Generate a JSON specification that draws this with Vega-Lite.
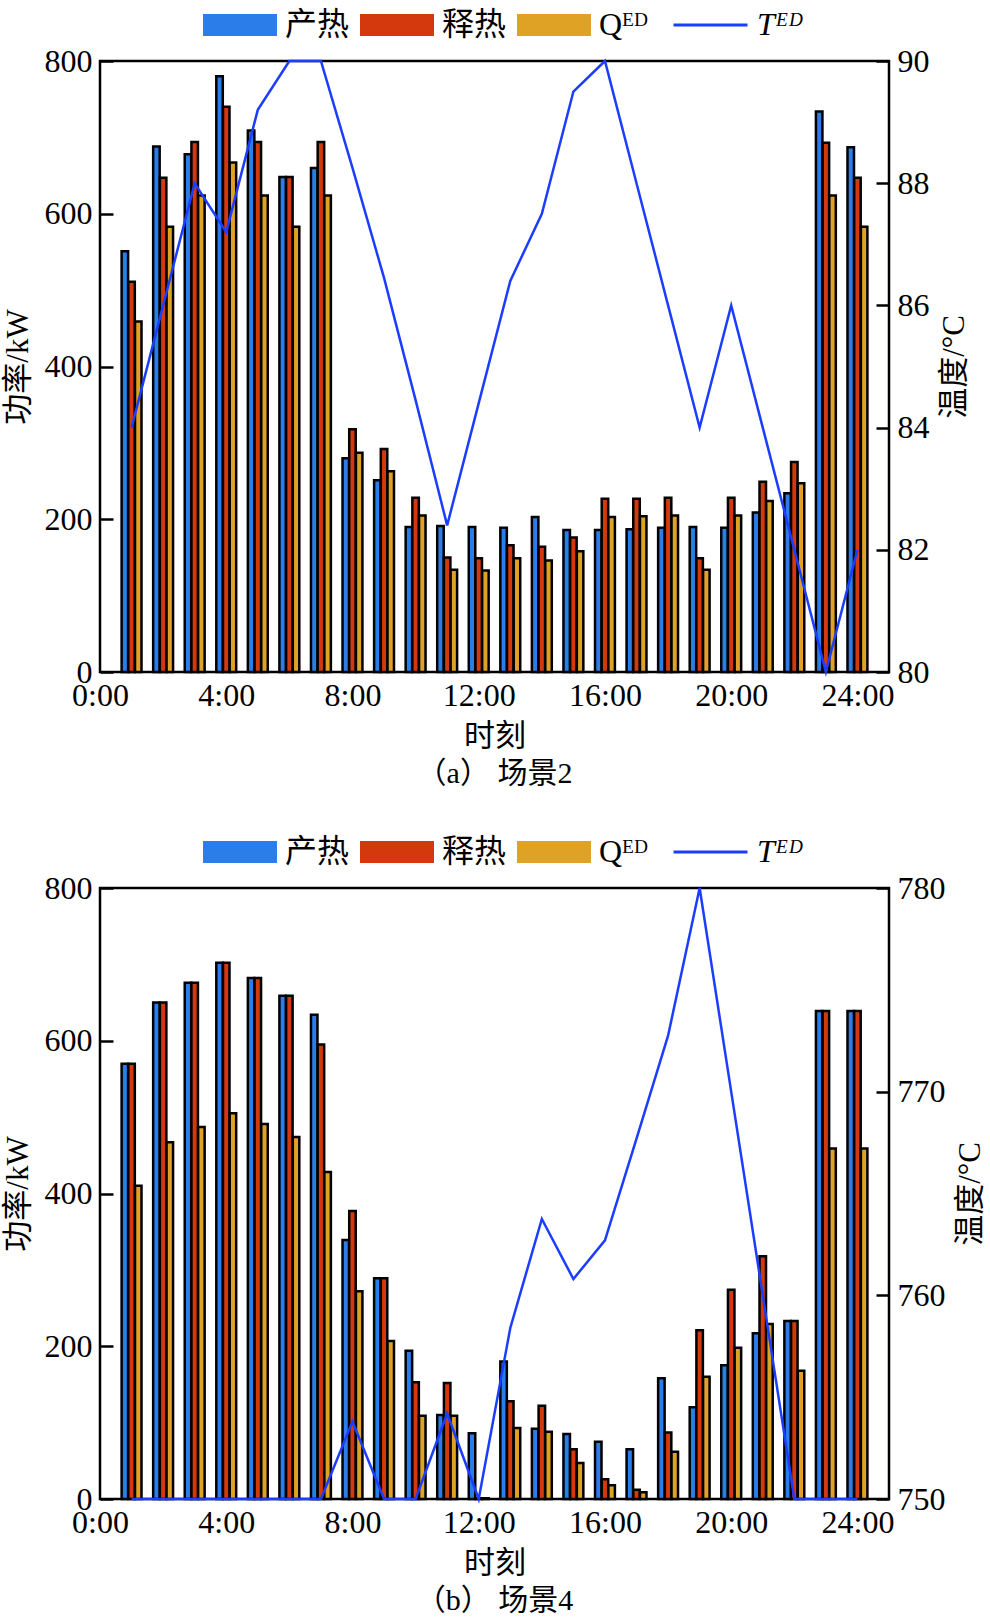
{
  "$schema": "https://vega.github.io/schema/vega-lite/v6.json",
  "padding": {"left": 0, "top": 7, "right": 0, "bottom": 2},
  "background": "white",
  "datasets": {
    "a": [
      {"h": 1, "p": 551, "r": 511, "q": 459, "t": 84},
      {"h": 2, "p": 688, "r": 647, "q": 583, "t": 86},
      {"h": 3, "p": 678, "r": 694, "q": 624, "t": 88},
      {"h": 4, "p": 780, "r": 740, "q": 667, "t": 87.2},
      {"h": 5, "p": 709, "r": 694, "q": 624, "t": 89.2},
      {"h": 6, "p": 648, "r": 648, "q": 583, "t": 90},
      {"h": 7, "p": 660, "r": 694, "q": 624, "t": 90},
      {"h": 8, "p": 280, "r": 318, "q": 287, "t": 88.25},
      {"h": 9, "p": 251, "r": 292, "q": 263, "t": 86.45},
      {"h": 10, "p": 190, "r": 228, "q": 205, "t": 84.45},
      {"h": 11, "p": 191, "r": 150, "q": 134, "t": 82.4},
      {"h": 12, "p": 190, "r": 149, "q": 133, "t": 84.4},
      {"h": 13, "p": 189, "r": 166, "q": 149, "t": 86.4},
      {"h": 14, "p": 203, "r": 164, "q": 146, "t": 87.5},
      {"h": 15, "p": 186, "r": 176, "q": 158, "t": 89.5},
      {"h": 16, "p": 186, "r": 227, "q": 203, "t": 90},
      {"h": 17, "p": 187, "r": 227, "q": 204, "t": 88},
      {"h": 18, "p": 189, "r": 228, "q": 205, "t": 86},
      {"h": 19, "p": 190, "r": 149, "q": 134, "t": 84},
      {"h": 20, "p": 189, "r": 228, "q": 205, "t": 86},
      {"h": 21, "p": 209, "r": 249, "q": 224, "t": 84},
      {"h": 22, "p": 234, "r": 275, "q": 247, "t": 82},
      {"h": 23, "p": 734, "r": 693, "q": 624, "t": 80},
      {"h": 24, "p": 687, "r": 647, "q": 583, "t": 82}
    ],
    "b": [
      {"h": 1, "p": 570, "r": 570, "q": 410, "t": 750},
      {"h": 2, "p": 650, "r": 650, "q": 467, "t": 750},
      {"h": 3, "p": 676, "r": 676, "q": 487, "t": 750},
      {"h": 4, "p": 702, "r": 702, "q": 505, "t": 750},
      {"h": 5, "p": 682, "r": 682, "q": 491, "t": 750},
      {"h": 6, "p": 659, "r": 659, "q": 474, "t": 750},
      {"h": 7, "p": 634, "r": 595, "q": 428, "t": 750},
      {"h": 8, "p": 339, "r": 377, "q": 272, "t": 753.8},
      {"h": 9, "p": 289, "r": 289, "q": 207, "t": 750},
      {"h": 10, "p": 194, "r": 153, "q": 109, "t": 750},
      {"h": 11, "p": 110, "r": 152, "q": 109, "t": 754.2},
      {"h": 12, "p": 86, "r": 1, "q": 1, "t": 750},
      {"h": 13, "p": 180, "r": 128, "q": 93, "t": 758.4},
      {"h": 14, "p": 92, "r": 122, "q": 88, "t": 763.75},
      {"h": 15, "p": 85, "r": 65, "q": 47, "t": 760.8},
      {"h": 16, "p": 75, "r": 26, "q": 18, "t": 762.7},
      {"h": 17, "p": 65, "r": 12, "q": 9, "t": 767.7},
      {"h": 18, "p": 158, "r": 87, "q": 62, "t": 772.75},
      {"h": 19, "p": 120, "r": 221, "q": 160, "t": 780},
      {"h": 20, "p": 175, "r": 274, "q": 198, "t": 770},
      {"h": 21, "p": 217, "r": 318, "q": 229, "t": 760},
      {"h": 22, "p": 233, "r": 233, "q": 168, "t": 750},
      {"h": 23, "p": 639, "r": 639, "q": 459, "t": 750},
      {"h": 24, "p": 639, "r": 639, "q": 459, "t": 750}
    ]
  },
  "vconcat": [
    {
      "width": 789,
      "height": 611,
      "data": {"name": "a"},
      "title": {"text": "（a） 场景2", "orient": "bottom"},
      "layer": [
        {
          "layer": [
            {
              "mark": {"type": "bar", "width": 6.5, "xOffset": -6.7, "stroke": "black", "strokeWidth": 2.5},
              "encoding": {
                "x": {"field": "h", "type": "quantitative", "title": "时刻", "scale": {"domain": [0, 25], "padding": 0, "nice": false}, "axis": {"values": [0, 4, 8, 12, 16, 20, 24], "labelExpr": "datum.value + ':00'", "ticks": false, "labelFlush": false}},
                "y": {"field": "p", "type": "quantitative", "title": "功率/kW", "scale": {"domain": [0, 800], "nice": false}, "axis": {"values": [0, 200, 400, 600, 800]}},
                "fill": {
                  "datum": "产热",
                  "type": "nominal",
                  "scale": {"domain": ["产热", "释热", "Qᴱᴰ"], "range": ["#2b7de9", "#d4380d", "#e0a224"]},
                  "legend": {
                    "orient": "none", "legendX": 103, "legendY": -52, "direction": "horizontal", "columns": 3, "title": null,
                    "symbolType": "M-1,-0.3H1V0.3H-1Z", "symbolSize": 5476, "clipHeight": 32, "labelFontSize": 32, "labelOffset": 8, "columnPadding": 10, "gridAlign": "all", "labelColor": "black", "symbolStrokeWidth": 0, "symbolOpacity": 1
                  }
                }
              }
            },
            {
              "mark": {"type": "bar", "width": 6.5, "xOffset": 0, "stroke": "black", "strokeWidth": 2.5},
              "encoding": {
                "x": {"field": "h", "type": "quantitative", "title": "时刻"},
                "y": {"field": "r", "type": "quantitative", "title": "功率/kW"},
                "fill": {"datum": "释热", "type": "nominal"}
              }
            },
            {
              "mark": {"type": "bar", "width": 6.5, "xOffset": 6.7, "stroke": "black", "strokeWidth": 2.5},
              "encoding": {
                "x": {"field": "h", "type": "quantitative", "title": "时刻"},
                "y": {"field": "q", "type": "quantitative", "title": "功率/kW"},
                "fill": {"datum": "Qᴱᴰ", "type": "nominal"}
              }
            }
          ]
        },
        {
          "mark": {"type": "line", "strokeWidth": 2.5},
          "encoding": {
            "x": {"field": "h", "type": "quantitative", "title": "时刻"},
            "y": {"field": "t", "type": "quantitative", "title": "温度/°C", "scale": {"domain": [80, 90], "nice": false, "zero": false}, "axis": {"orient": "right", "values": [80, 82, 84, 86, 88, 90], "titleAngle": 270, "titleBaseline": "top"}},
            "stroke": {
              "datum": "Tᴱᴰ",
              "type": "nominal",
              "scale": {"domain": ["Tᴱᴰ"], "range": ["#1b3dff"]},
              "legend": {
                "orient": "none", "legendX": 572, "legendY": -52, "title": null,
                "symbolType": "stroke", "symbolSize": 5476, "symbolStrokeWidth": 3, "clipHeight": 32, "labelFontSize": 32, "labelOffset": 8, "labelColor": "black", "labelFontStyle": "italic"
              }
            }
          }
        }
      ],
      "resolve": {"scale": {"y": "independent"}}
    },
    {
      "width": 789,
      "height": 611,
      "data": {"name": "b"},
      "title": {"text": "（b） 场景4", "orient": "bottom"},
      "layer": [
        {
          "layer": [
            {
              "mark": {"type": "bar", "width": 6.5, "xOffset": -6.7, "stroke": "black", "strokeWidth": 2.5},
              "encoding": {
                "x": {"field": "h", "type": "quantitative", "title": "时刻", "scale": {"domain": [0, 25], "padding": 0, "nice": false}, "axis": {"values": [0, 4, 8, 12, 16, 20, 24], "labelExpr": "datum.value + ':00'", "ticks": false, "labelFlush": false}},
                "y": {"field": "p", "type": "quantitative", "title": "功率/kW", "scale": {"domain": [0, 800], "nice": false}, "axis": {"values": [0, 200, 400, 600, 800]}},
                "fill": {
                  "datum": "产热",
                  "type": "nominal",
                  "scale": {"domain": ["产热", "释热", "Qᴱᴰ"], "range": ["#2b7de9", "#d4380d", "#e0a224"]},
                  "legend": {
                    "orient": "none", "legendX": 103, "legendY": -52, "direction": "horizontal", "columns": 3, "title": null,
                    "symbolType": "M-1,-0.3H1V0.3H-1Z", "symbolSize": 5476, "clipHeight": 32, "labelFontSize": 32, "labelOffset": 8, "columnPadding": 10, "gridAlign": "all", "labelColor": "black", "symbolStrokeWidth": 0, "symbolOpacity": 1
                  }
                }
              }
            },
            {
              "mark": {"type": "bar", "width": 6.5, "xOffset": 0, "stroke": "black", "strokeWidth": 2.5},
              "encoding": {
                "x": {"field": "h", "type": "quantitative", "title": "时刻"},
                "y": {"field": "r", "type": "quantitative", "title": "功率/kW"},
                "fill": {"datum": "释热", "type": "nominal"}
              }
            },
            {
              "mark": {"type": "bar", "width": 6.5, "xOffset": 6.7, "stroke": "black", "strokeWidth": 2.5},
              "encoding": {
                "x": {"field": "h", "type": "quantitative", "title": "时刻"},
                "y": {"field": "q", "type": "quantitative", "title": "功率/kW"},
                "fill": {"datum": "Qᴱᴰ", "type": "nominal"}
              }
            }
          ]
        },
        {
          "mark": {"type": "line", "strokeWidth": 2.5},
          "encoding": {
            "x": {"field": "h", "type": "quantitative", "title": "时刻"},
            "y": {"field": "t", "type": "quantitative", "title": "温度/°C", "scale": {"domain": [750, 780], "nice": false, "zero": false}, "axis": {"orient": "right", "values": [750, 760, 770, 780], "titleAngle": 270, "titleBaseline": "top"}},
            "stroke": {
              "datum": "Tᴱᴰ",
              "type": "nominal",
              "scale": {"domain": ["Tᴱᴰ"], "range": ["#1b3dff"]},
              "legend": {
                "orient": "none", "legendX": 572, "legendY": -52, "title": null,
                "symbolType": "stroke", "symbolSize": 5476, "symbolStrokeWidth": 3, "clipHeight": 32, "labelFontSize": 32, "labelOffset": 8, "labelColor": "black", "labelFontStyle": "italic"
              }
            }
          }
        }
      ],
      "resolve": {"scale": {"y": "independent"}}
    }
  ],
  "spacing": 43,
  "resolve": {
    "scale": {"fill": "independent", "stroke": "independent", "x": "independent", "y": "independent"},
    "legend": {"fill": "independent", "stroke": "independent"}
  },
  "config": {
    "font": "Liberation Serif, Noto Sans CJK SC",
    "view": {"stroke": "black", "strokeWidth": 2.5},
    "axis": {
      "domain": false, "grid": false, "tickSize": -13, "tickWidth": 2.5, "tickColor": "black",
      "labelFontSize": 32, "labelColor": "black", "labelPadding": 8, "labelFontWeight": "normal",
      "titleFontSize": 31, "titleColor": "black", "titleFontWeight": "normal", "titlePadding": 10
    },
    "axisY": {"labelPadding": 21},
    "title": {"fontSize": 30, "fontWeight": "normal", "color": "black", "offset": 8}
  }
}
